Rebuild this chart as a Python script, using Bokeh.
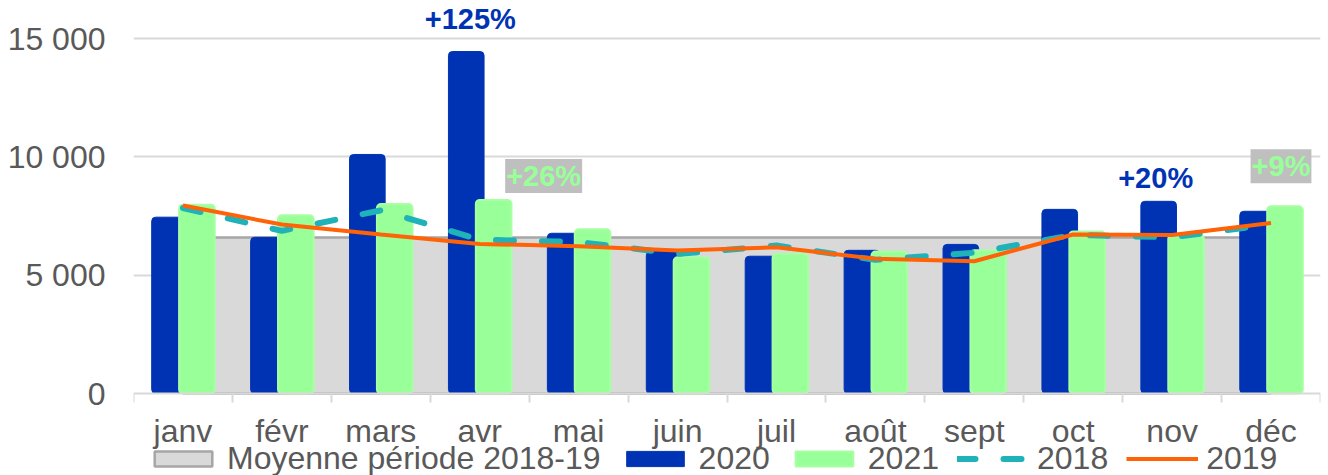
from bokeh.plotting import figure
from bokeh.models import Range1d, FixedTicker, Legend, LegendItem, Label, ColumnDataSource
from bokeh.embed import file_html
from bokeh.resources import INLINE

months = ["janv", "févr", "mars", "avr", "mai", "juin", "juil", "août", "sept", "oct", "nov", "déc"]
v2020 = [7450, 6600, 10100, 14450, 6770, 6000, 5800, 6050, 6300, 7780, 8120, 7700]
v2021 = [7980, 7530, 8010, 8180, 6940, 5760, 5900, 6000, 6050, 6850, 6700, 7910]
v2018 = [7840, 6870, 7740, 6500, 6400, 5900, 6250, 5650, 5950, 6700, 6600, 7150]
v2019 = [7940, 7140, 6720, 6320, 6220, 6040, 6180, 5690, 5590, 6720, 6700, 7200]
avg_1819 = [6590] * 12
y_ticks = [0, 5000, 10000, 15000]
y_tick_labels = ["0", "5 000", "10 000", "15 000"]
ann_text = ["+125%", "+26%", "+20%", "+9%"]
ann_month = [3, 3, 10, 11]
ann_series = ["2020", "2021", "2020", "2021"]

FONT = "Liberation Sans"
GREY_TXT = "#595959"
BLUE = "#0033B4"
GREEN = "#99FF99"
TEAL = "#1FB2B8"
ORANGE = "#FF6207"

n = len(months)
centers = [i + 0.5 for i in range(n)]
off_b, off_g, bw = -0.136, 0.141, 0.36

src = ColumnDataSource(dict(
    x=centers,
    xb=[c + off_b for c in centers],
    xg=[c + off_g for c in centers],
    v2020=v2020, v2021=v2021, v2018=v2018, v2019=v2019,
))

PX_PER_UNIT = 355 / 15000.0
Y0_PX, H = 393, 475
p = figure(width=1328, height=H, output_backend="svg", toolbar_location=None,
           x_range=Range1d(0, n),
           y_range=Range1d(-(H - Y0_PX) / PX_PER_UNIT, Y0_PX / PX_PER_UNIT),
           min_border_left=133, min_border_right=8, min_border_top=0, min_border_bottom=0)
p.outline_line_color = None
p.background_fill_color = "white"

# average area (patch built from data)
pxs = [centers[0]] + centers + [centers[-1]]
pys = [0] + avg_1819 + [0]
r_avg = p.patch(pxs, pys, fill_color="#D9D9D9", line_color="#A6A6A6", line_width=2.5)

r20 = p.vbar(x="xb", top="v2020", width=bw, source=src, fill_color=BLUE, line_color=BLUE,
             line_width=1, border_radius=4)
r21 = p.vbar(x="xg", top="v2021", width=bw, source=src, fill_color=GREEN, line_color="#A8FFA3",
             line_width=2, border_radius=4)
r18 = p.line(x="x", y="v2018", source=src, line_color=TEAL, line_width=6, line_dash="18 28",
             line_cap="round")
r19 = p.line(x="x", y="v2019", source=src, line_color=ORANGE, line_width=4)

# axes
xa = p.xaxis[0]
xa.fixed_location = 0
xa.ticker = FixedTicker(ticks=centers, minor_ticks=list(range(n + 1)))
xa.major_label_overrides = {c: m for c, m in zip(centers, months)}
xa.axis_line_color = "#D9D9D9"
xa.axis_line_width = 2
xa.major_tick_line_color = None
xa.major_tick_out = 0
xa.major_tick_in = 0
xa.minor_tick_line_color = "#D9D9D9"
xa.minor_tick_line_width = 2
xa.minor_tick_out = 9
xa.minor_tick_in = 0
xa.major_label_standoff = 10
xa.major_label_text_font = FONT
xa.major_label_text_font_size = "32px"
xa.major_label_text_color = GREY_TXT

ya = p.yaxis[0]
ya.ticker = FixedTicker(ticks=y_ticks)
ya.major_label_overrides = {t: l for t, l in zip(y_ticks, y_tick_labels)}
ya.axis_line_color = None
ya.major_tick_line_color = None
ya.minor_tick_line_color = None
ya.major_tick_out = 0
ya.major_label_standoff = 28
ya.major_label_text_font = FONT
ya.major_label_text_font_size = "32px"
ya.major_label_text_color = GREY_TXT

p.xgrid.grid_line_color = None
p.ygrid.grid_line_color = "#D9D9D9"
p.ygrid.grid_line_width = 2
p.ygrid.ticker = FixedTicker(ticks=y_ticks[1:])

# annotations
series_vals = {"2020": v2020, "2021": v2021}
series_off = {"2020": off_b, "2021": off_g}
styles = [
    dict(x_offset=4, y_offset=33, text_baseline="alphabetic", text_color=BLUE),
    dict(x_offset=50, y_offset=24, text_baseline="middle", text_color=GREEN,
         background_fill_color="#BFBFBF", padding=1),
    dict(x_offset=-3, y_offset=23, text_baseline="alphabetic", text_color=BLUE),
    dict(x_offset=-4, y_offset=40, text_baseline="middle", text_color=GREEN,
         background_fill_color="#BFBFBF", padding=1),
]
for t, m, s, st in zip(ann_text, ann_month, ann_series, styles):
    lab = Label(x=centers[m] + series_off[s], y=series_vals[s][m], text=t, text_align="center",
                text_font=FONT, text_font_size="29px", text_font_style="bold", **st)
    p.add_layout(lab)

legend = Legend(items=[
    LegendItem(label="Moyenne période 2018-19", renderers=[r_avg]),
    LegendItem(label="2020", renderers=[r20]),
    LegendItem(label="2021", renderers=[r21]),
    LegendItem(label="2018", renderers=[r18]),
    LegendItem(label="2019", renderers=[r19]),
], orientation="horizontal", location=(14, -2), label_text_font=FONT,
    label_text_font_size="32px", label_text_color=GREY_TXT, glyph_width=72, glyph_height=19,
    label_standoff=8, spacing=18, padding=0, margin=0, border_line_color=None,
    background_fill_alpha=0)
p.add_layout(legend, "center")

open("out.html", "w").write(file_html(p, INLINE))
